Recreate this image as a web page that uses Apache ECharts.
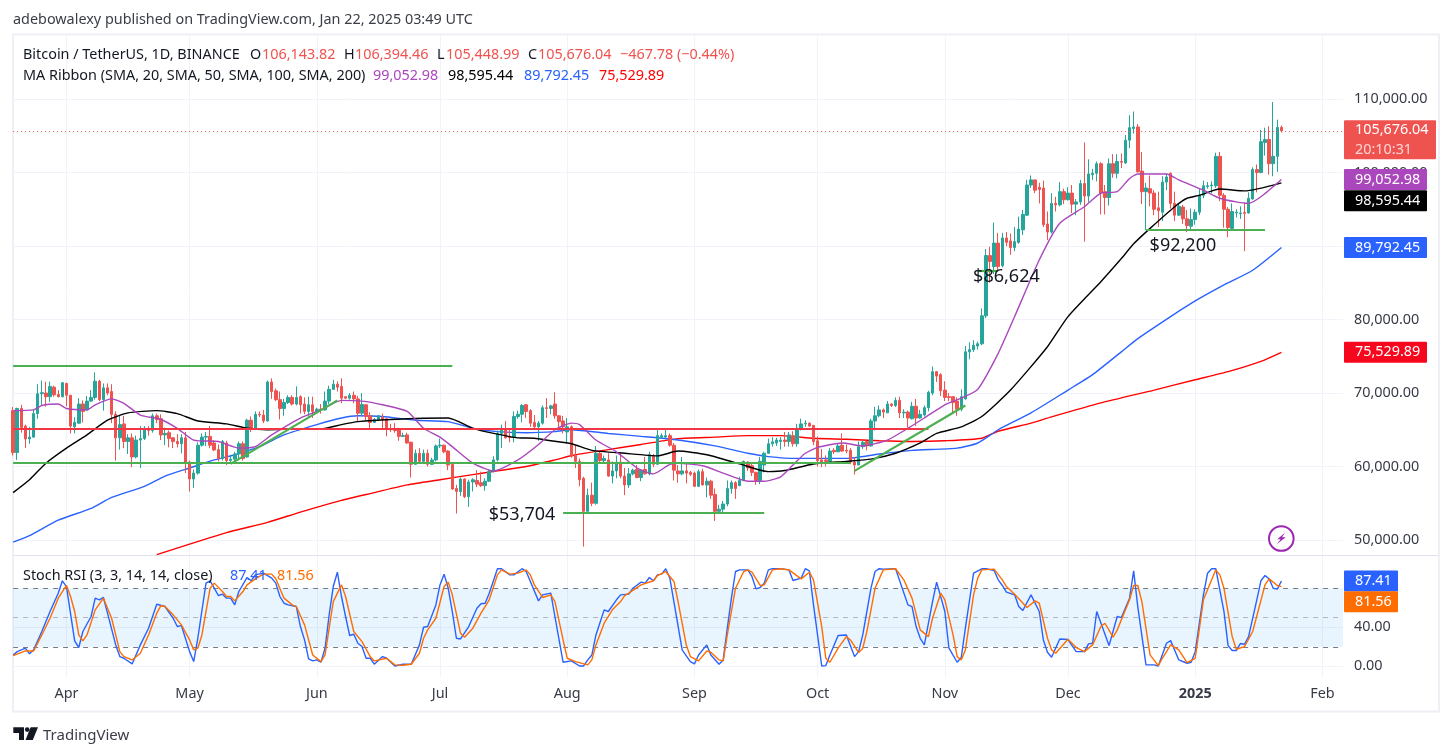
<!DOCTYPE html>
<html>
<head>
<meta charset="utf-8">
<title>BTC/USDT daily</title>
<style>html,body{margin:0;padding:0;background:#fff}#chart{width:1453px;height:756px}</style>
<script src="https://cdn.jsdelivr.net/npm/echarts@6/dist/echarts.min.js"></script>
</head>
<body>
<div id="chart"></div>
<script>
// Daily candles, 19 Mar 2024 to 22 Jan 2025, prices in thousands of USDT. One row per month.
const opens = [
67.6,61.9,67.9,65.5,63.75,64.0,67.2,69.9,70.0,69.5,70.8,69.8,69.5,
71.3,69.7,65.4,65.9,68.5,67.7,68.9,69.4,71.6,69.1,70.7,70.2,67.1,63.9,65.8,63.4,63.9,61.3,63.6,63.8,65.2,64.9,66.9,66.5,64.3,64.6,63.9,63.4,63.1,63.9,
60.6,58.3,59.1,62.9,64.0,64.1,63.2,62.3,61.1,63.2,60.8,61.0,61.7,63.1,61.3,66.3,65.2,67.1,67.0,66.2,71.5,70.3,69.1,67.9,68.7,69.4,68.5,69.5,68.5,67.5,68.4,
67.5,67.8,67.7,68.9,70.5,71.2,70.9,69.5,69.3,69.7,69.2,67.25,68.4,66.9,66.0,66.4,66.7,66.5,65.1,65.0,65.0,64.1,64.3,63.3,60.3,61.8,60.7,61.8,60.3,60.9,
62.8,62.9,62.1,60.3,57.0,56.6,58.3,55.9,57.9,58.1,57.8,57.4,58.0,59.3,60.9,64.5,65.1,63.99,63.95,66.8,67.1,68.4,67.6,66.0,65.4,65.9,68.0,67.9,68.5,66.9,66.2,
64.7,65.4,61.5,60.7,58.4,53.9,56.1,55.0,61.8,60.8,60.9,58.7,59.4,60.6,58.7,57.5,59.0,59.6,58.5,59.6,59.0,61.4,60.3,64.0,64.0,64.2,62.9,59.4,59.0,59.4,59.2,
59.1,57.3,59.3,57.5,58.0,56.2,53.9,54.2,54.9,57.0,57.8,57.4,58.1,60.6,60.1,59.2,58.1,60.2,61.8,63.1,63.2,63.4,63.6,63.4,64.2,63.1,65.2,65.8,65.9,65.6,
63.5,60.9,60.9,60.7,62.2,62.0,62.9,62.2,62.2,60.6,60.2,62.7,63.4,62.8,66.2,66.9,67.7,67.3,68.5,68.3,69.0,67.3,67.4,66.5,68.2,66.6,67.0,68.0,70.0,72.9,72.5,
70.4,69.5,69.5,68.9,67.8,69.2,75.6,75.9,76.4,76.7,80.5,88.7,87.2,90.4,87.3,91.1,90.7,89.8,90.5,92.2,94.2,98.3,99.0,98.0,97.9,93.0,91.9,95.8,95.6,97.4,
96.3,97.2,95.7,96.0,98.5,96.8,99.7,99.9,101.2,97.4,96.6,101.2,99.9,101.5,101.3,104.4,106.0,106.2,100.2,97.4,97.8,97.2,95.2,94.6,98.7,99.9,95.8,94.2,95.3,93.7,92.7,
93.6,94.6,96.9,98.1,98.2,98.2,102.2,96.9,95.0,92.4,94.5,94.4,94.55,94.5,96.4,100.4,100.0,104.1,104.5,101.2,102.2,106.14382
];
const highs = [
68.1,68.0,68.4,65.7,65.4,67.7,71.2,71.7,71.55,71.55,71.0,70.4,71.5,
71.4,69.7,66.7,69.3,69.0,69.6,70.4,72.8,71.8,71.3,71.3,71.2,67.5,66.9,66.9,64.4,64.5,64.2,65.5,65.5,65.5,67.2,67.2,67.1,65.3,64.9,64.0,64.4,64.4,64.7,
60.8,59.6,63.3,64.5,64.7,65.5,63.6,63.0,63.6,63.5,61.6,62.0,63.4,63.4,66.5,66.8,67.5,67.5,67.7,71.7,72.0,70.6,70.2,69.2,69.7,69.7,70.9,69.7,69.4,69.5,69.5,
68.0,68.5,70.2,71.0,71.8,71.6,72.0,69.6,70.0,70.2,69.6,70.0,68.5,67.4,66.6,67.0,67.2,66.6,65.8,65.9,65.2,64.6,64.6,63.4,62.3,62.5,62.3,62.3,61.2,63.0,
63.8,63.0,62.2,60.5,57.5,58.5,58.4,58.2,58.4,59.5,59.3,58.4,59.6,61.4,64.9,65.7,66.2,65.1,67.5,67.6,68.5,68.5,67.8,67.0,66.2,68.3,69.3,68.4,70.1,67.0,66.9,
66.6,65.6,62.9,61.1,58.6,57.0,57.8,62.8,62.0,61.5,61.8,60.7,61.5,61.8,59.8,59.8,59.7,60.2,59.6,61.3,62.0,61.7,65.0,64.5,65.0,64.5,63.2,60.2,61.3,60.4,59.4,
59.3,59.6,59.7,58.5,58.2,57.0,54.8,55.3,58.1,58.1,58.0,58.6,60.8,60.7,60.4,59.3,61.3,62.0,63.8,64.0,63.9,64.0,64.7,64.7,64.8,65.8,66.5,66.3,66.0,65.6,
64.1,62.4,61.5,62.5,62.5,63.2,64.5,63.0,62.5,61.3,63.4,63.5,63.4,66.5,68.1,68.3,67.9,68.9,68.6,69.4,69.5,67.8,67.6,68.8,69.2,67.7,68.3,70.3,73.6,73.0,72.7,
71.6,70.0,69.5,69.4,70.5,76.4,76.9,77.2,77.0,81.5,89.6,89.9,93.2,91.8,91.8,91.9,91.7,92.6,94.0,94.9,99.0,99.6,99.0,98.6,98.9,94.7,97.2,96.7,98.7,97.8,
98.0,98.3,96.4,99.0,104.1,101.8,100.5,101.5,101.4,98.3,101.9,102.5,102.5,102.6,105.1,107.8,108.3,106.6,102.8,98.6,99.6,97.6,97.4,99.5,99.8,100.0,97.4,95.7,95.6,94.9,95.1,
95.0,97.8,98.9,98.7,98.8,102.7,102.8,97.2,95.3,95.8,95.0,95.4,95.9,97.3,100.7,101.1,105.8,106.1,106.3,109.6,107.2,106.39446
];
const lows = [
61.5,60.9,64.6,62.5,63.1,63.9,66.5,68.4,68.15,68.8,69.5,69.4,69.4,
68.2,64.5,64.5,65.8,66.0,67.6,68.8,69.1,68.9,67.6,69.7,65.9,60.8,62.3,62.5,61.7,59.9,61.1,59.8,63.6,64.2,64.6,65.9,63.6,62.9,62.6,62.5,62.6,61.8,59.1,
56.6,57.1,58.9,62.7,62.8,62.5,62.1,60.7,60.8,60.2,60.5,60.7,60.9,60.8,61.2,64.7,65.0,66.7,65.9,66.1,69.2,68.9,66.4,66.9,68.5,68.3,68.3,67.2,67.1,66.7,66.6,
67.4,67.2,67.6,68.5,70.4,70.2,68.6,69.2,69.1,68.6,66.1,66.9,66.3,65.2,65.9,66.3,65.1,64.1,64.7,64.6,63.5,64.0,63.1,58.5,60.2,60.6,60.6,60.0,60.2,60.7,
62.5,61.8,59.5,56.8,53.6,56.0,55.7,54.5,56.6,57.2,57.2,56.7,57.9,59.2,60.7,62.5,63.8,63.3,63.3,66.5,66.0,66.6,65.4,65.1,63.5,65.7,66.6,67.1,66.5,65.3,64.5,
63.1,61.2,59.8,57.3,49.1,53.8,54.6,54.8,60.5,60.6,58.6,57.7,58.4,58.4,56.1,57.1,58.8,58.4,58.0,58.9,58.8,59.9,60.3,63.8,63.8,62.7,58.1,57.8,58.8,57.7,58.7,
57.2,57.2,57.4,55.8,55.6,52.6,53.7,53.8,54.6,56.3,55.6,57.3,58.0,59.4,58.7,57.5,57.6,59.2,61.7,62.7,62.8,62.3,62.7,62.7,62.7,62.7,64.9,65.4,65.4,62.9,
60.0,59.9,60.0,60.5,61.7,62.0,62.0,61.8,60.3,58.9,60.2,62.4,62.2,62.7,64.9,66.7,66.6,67.3,68.1,68.1,66.6,66.6,65.3,66.4,65.5,66.5,66.8,67.5,69.7,71.5,69.6,
68.9,68.9,67.3,66.9,67.5,69.1,74.6,75.6,75.9,76.5,80.2,85.0,86.2,86.5,87.1,90.0,88.8,89.3,90.3,91.5,94.1,97.9,97.2,95.8,92.6,90.8,91.7,94.7,95.4,95.7,
96.2,94.5,94.2,95.6,90.6,96.0,99.0,98.8,94.3,94.3,95.5,99.3,99.2,100.6,101.2,103.3,105.3,100.0,95.7,92.2,95.4,94.2,92.6,93.4,97.6,95.1,93.4,94.1,93.0,91.9,92.2,
92.9,94.2,96.5,97.8,97.2,97.9,96.1,92.5,91.2,92.1,93.9,93.7,89.3,94.4,96.3,97.3,99.9,102.3,99.7,99.5,100.1,105.44899
];
const closes = [
61.9,67.9,65.3,63.75,64.0,67.2,69.9,70.05,69.5,70.9,69.75,69.5,71.4,
69.7,65.5,66.0,68.5,67.5,68.9,69.4,71.6,69.1,70.7,70.0,67.1,63.9,65.7,63.4,63.9,61.3,63.6,63.8,65.2,64.9,66.9,66.4,64.3,64.5,63.8,63.4,63.1,63.9,60.5,
58.3,59.1,62.9,64.0,64.1,62.9,62.25,61.1,63.4,60.8,61.0,61.7,63.1,61.1,66.3,65.2,67.1,67.0,66.2,71.5,70.2,69.1,67.9,68.7,69.4,68.5,69.4,68.4,67.5,68.4,67.5,
67.8,67.7,68.9,70.5,71.2,70.8,69.3,69.3,69.7,69.2,67.25,68.45,66.8,66.0,66.4,66.9,66.4,65.1,65.0,64.9,64.1,64.2,63.2,60.3,61.8,60.7,61.8,60.3,60.9,62.8,
62.9,62.0,60.2,56.95,56.6,58.3,55.9,57.9,58.2,57.6,57.4,58.0,59.3,60.9,64.5,65.2,63.9,63.95,66.8,67.1,68.3,67.5,65.9,65.4,65.9,68.0,67.9,68.25,66.9,66.1,65.4,
65.4,61.4,60.7,58.2,53.9,56.1,55.0,61.8,60.8,61.1,58.7,59.4,60.6,58.7,57.5,59.0,59.5,58.5,59.5,59.0,61.6,60.3,64.2,64.2,64.2,62.9,59.5,59.0,59.4,59.1,58.95,
57.3,59.3,57.5,58.0,56.1,53.9,54.2,54.9,57.0,57.8,57.0,58.1,60.7,59.8,59.2,58.1,60.7,61.8,63.1,63.35,63.6,63.6,63.4,64.3,63.1,65.2,65.8,65.9,65.5,63.4,
60.8,60.6,60.7,62.1,62.0,62.8,62.1,62.1,60.6,60.2,62.7,63.3,62.8,66.2,66.9,67.7,67.4,68.5,68.3,69.0,67.3,67.4,66.6,68.2,66.6,67.1,68.0,70.1,72.9,72.3,70.3,
69.4,69.4,68.7,67.8,69.5,75.6,75.9,76.5,76.7,80.5,88.7,87.9,90.4,87.2,91.1,90.5,89.8,90.6,92.3,94.3,98.3,99.0,97.6,97.7,92.9,91.9,95.8,95.6,97.4,96.3,
97.2,95.7,96.0,98.5,96.8,99.8,99.9,101.2,97.2,96.6,101.2,99.9,101.5,101.4,104.4,106.1,106.2,100.1,97.4,97.9,97.2,95.0,94.8,98.7,99.4,95.8,94.2,95.4,93.7,92.8,93.6,
94.6,96.9,98.2,98.2,98.3,102.2,96.9,95.0,92.5,94.7,94.6,94.5,94.45,96.5,100.4,100.0,104.2,104.5,101.2,102.2,106.14,105.67604
];

// Moving averages, in thousands, read at the listed days (days counted from 1 Apr 2024).
const sma20Days = [-13,-8,-6,-2,0,5,7,11,14,18,23,27,31,37,42,46,50,57,62,67,72,77,83,87,91,94,99,104,110,115,119,123,125,129,134,139,143,147,149,155,160,166,170,174,177,180,183,189,194,200,205,209,214,218,222,227,231,237,242,248,252,256,259,261,268,271,277,281,285,288,291,296];
const sma20 = [67.6,67.7,68.3,68.5,67.9,67.7,68.4,69.2,68.6,67.0,66.4,65.2,63.6,63.4,62.5,62.7,64.3,66.6,67.7,69.0,68.9,68.4,67.5,65.2,64.0,62.7,60.45,59.4,60.9,63.0,65.0,65.9,65.7,63.6,62.0,59.8,59.0,60.3,60.45,60.1,59.1,58.0,58.0,58.6,60.2,61.8,62.6,63.2,62.8,63.6,65.2,66.6,68.4,69.3,70.5,75.4,80.4,88.1,93.1,95.35,97.2,97.4,99.2,99.8,99.8,99.0,97.6,96.5,96.0,95.8,96.7,99.05298];
const sma50Days = [-13,-9,-5,0,5,10,15,22,27,32,39,44,49,57,62,67,71,79,93,99,105,110,114,118,123,128,136,144,149,156,164,171,175,182,190,196,202,208,212,218,223,230,239,244,252,257,260,264,270,273,276,281,287,296];
const sma50 = [56.45,58.2,60.45,62.5,64.3,66.3,67.3,67.6,67.2,66.2,65.8,65.2,65.0,65.1,65.1,65.7,66.1,66.4,66.6,65.2,64.4,63.9,63.85,63.5,63.1,62.2,61.8,61.45,62.1,61.6,60.35,59.3,59.45,60.35,60.7,61.0,61.8,63.2,64.5,65.4,66.8,70.4,76.3,80.4,85.15,88.3,90.3,92.4,95.35,96.5,96.9,97.75,97.5,98.59544];
const sma100Days = [-13,-9,-2,6,11,19,24,30,36,41,47,53,61,67,71,77,85,93,99,105,112,119,123,132,140,149,158,166,171,178,190,198,206,217,222,227,235,244,250,257,261,269,274,282,289,296];
const sma100 = [49.7,50.6,52.7,54.3,55.8,57.3,58.7,59.8,60.9,61.6,62.7,64.3,65.7,66.6,66.9,66.8,66.3,66.1,65.2,64.75,64.6,64.75,65.0,64.5,64.1,63.6,62.8,61.8,61.35,61.1,61.1,61.7,62.2,62.5,63.2,65.0,67.3,70.4,72.5,75.6,77.4,80.4,82.2,84.7,86.7,89.79245];
const sma200Days = [22,39,49,57,67,75,83,91,99,105,112,119,124,132,140,149,158,166,174,182,190,198,206,214,223,227,235,240,252,265,275,283,291,296];
const sma200 = [48.0,51.0,52.4,53.8,55.4,56.45,57.5,58.2,58.9,59.4,60.0,60.9,61.6,62.3,63.0,63.8,64.0,64.2,64.2,63.85,63.7,63.5,63.4,63.5,63.85,64.8,65.9,66.75,68.65,70.4,71.8,72.9,74.3,75.52989];

// Stochastic RSI: %K and %D at the listed days (days counted from 1 Apr 2024).
const stochKDays = [-13,-12,-10,-9,-8,-6,-4,-2,-1,0,2,3,4,6,7,8,9,10,12,13,14,16,18,20,22,24,26,27,28,30,31,32,34,35,36,37,38,39,40,41,42,44,45,46,48,50,51,52,53,54,56,57,58,59,60,61,62,63,64,65,66,67,68,69,70,71,72,73,74,75,77,78,80,82,84,86,87,88,90,91,92,93,94,95,96,98,100,101,102,103,105,106,108,109,111,112,115,116,118,119,121,123,125,126,127,128,129,131,132,134,135,137,138,140,141,142,143,144,145,146,147,150,152,153,154,156,157,159,160,161,162,163,164,166,167,168,169,170,171,172,174,176,177,179,180,181,182,184,185,186,188,190,192,193,194,196,197,198,199,202,205,206,207,208,209,211,212,214,215,217,218,219,221,223,224,226,227,228,229,231,232,233,235,237,238,239,240,242,244,246,248,249,250,251,254,256,257,259,260,261,263,265,266,268,269,271,273,274,275,277,278,279,280,282,283,284,285,286,287,288,290,291,292,293,294,295,296];
const stochK = [11.6,15,18.5,12.7,16.8,35.6,56.1,74.9,87.6,81.7,26,19.2,35.6,51,69.8,68.1,70.5,54.4,21.9,9.9,8.2,2.4,21.9,39,63.6,61.2,49.2,40.7,41.7,15,4.8,28.7,85.2,87.6,80,72.5,73.9,69.8,69.8,62.9,76.6,91,87.6,93.7,95.4,90.3,85.2,71.5,64.6,62.9,61.2,40.7,27,7.5,5.5,6.5,4.1,18.5,52.7,81.7,96.4,71.5,51,31.5,32.8,23.6,20.2,8.2,8.2,2.1,9.9,8.2,0.3,2.1,2.1,21.9,40,40.7,62.9,83.4,94.4,80,56.1,28.7,28,40.7,59.5,64,64.6,74.9,100,100,93.7,93.7,100,97.1,67,73.2,74.9,51,4.1,5.5,0.3,0.3,6.5,11.6,32.1,57.8,56.1,68.1,73.2,73.9,80,86.2,85.2,91,87.6,93.7,94.4,100,90.3,16.8,4.8,2.4,11.6,21.9,11.6,2.1,6.5,39,69.8,97.1,98.8,98.8,92,79.3,80.7,85.2,98.8,100,100,98.8,87.9,90.3,100,97.8,62.9,0.3,0.7,11.6,31.5,32.1,9.9,15,32.1,80,97.1,100,99.5,99.9,62.9,61.2,40.7,28.7,21.9,66.3,86.2,56.1,18.5,4.1,9,39,95.4,99.9,100,98.2,88.6,82.8,75.9,73.2,61.2,57.1,73.2,56.1,27,14.4,9.2,28,27.4,15,15,22.9,23.6,56.1,21.2,51,49.9,69.8,97.8,61.2,1.4,1.4,0.3,23.6,26.3,6.5,3.1,4.1,15,73.2,95.4,100,100,56.1,21.2,16.1,16.1,23.3,22.6,30.4,68.1,87.6,93,89.6,80,79,87.41];
const stochDDays = [-13,-10,-8,-6,-4,-2,0,1,2,3,4,5,7,9,11,13,14,16,18,20,22,23,24,26,28,30,31,32,33,35,36,38,39,40,41,43,44,46,48,50,51,53,55,56,58,60,62,63,65,67,68,70,72,74,75,78,80,82,84,86,87,88,90,92,93,94,96,97,99,101,103,105,106,108,110,112,113,114,116,118,119,121,122,124,127,128,129,131,133,135,136,137,140,143,144,146,148,149,151,152,154,156,157,159,160,161,163,165,166,167,169,170,172,174,176,179,181,182,184,185,186,188,190,191,193,194,195,197,199,202,204,206,208,210,211,213,214,216,217,218,219,221,222,223,226,228,229,231,234,236,237,239,240,241,244,246,248,250,252,253,255,256,259,260,261,262,264,266,267,269,271,273,275,277,280,281,282,284,285,287,289,292,293,295,296];
const stochD = [10.9,15.7,15.7,32.1,49.2,69.8,82.8,71.5,56.1,32.1,26,32.1,57.8,69.8,49.2,15,9.9,6.5,13.3,32.1,54.4,62.2,61.2,52.7,42.4,27,16.8,18.5,32.1,80,85.2,76.6,71.5,71.5,67,76.6,83.4,89.6,94.4,94.4,89.6,69.8,62.9,61.2,42.4,11.6,4.8,11.6,66.3,83.4,71.5,35.6,25.3,9.9,5.5,8.2,1.4,1,2.1,13.3,28.7,37.3,49.2,81.7,86.2,73.2,33.9,29.8,39,54.4,68.1,93.7,98.8,94.4,95.4,98.8,93.7,83.4,70.5,73.2,66.3,27,8.2,4.8,1.4,6.5,21.9,44.1,57.8,66.3,72.5,74.9,83.4,87.6,93,97.1,86.9,66.3,21.9,9.9,5.5,15.7,14.4,6.5,5.5,32.1,80,97.1,98.8,96.4,82.8,83.4,98.8,100,98.8,89.6,96.4,88.6,40.7,8.2,4.1,18.5,30.4,27,14,18.5,35.6,80,98.8,99.9,88.6,69.8,37.3,30.4,49.2,74.9,68.1,32.1,9.9,6.5,16.8,73.2,90.3,98.8,99.5,88.6,81.7,73.9,60.2,67,64.6,28.7,16.8,13.3,27.7,19.2,15,21.9,40.7,44.1,29.8,37.3,68.1,82.8,82.8,66.3,11.6,0.7,8.2,21.9,16.8,3.8,8.2,68.1,98.8,93.7,80,30.4,17.4,20.2,35.6,83.4,89.6,82.8,81.56];

// Axis ticks and drawn levels.
const firstDate = Date.UTC(2024, 2, 19);
const dayCount = 325;
const monthTicks = [['2024-04-01','Apr'],['2024-05-01','May'],['2024-06-01','Jun'],['2024-07-01','Jul'],['2024-08-01','Aug'],['2024-09-01','Sep'],['2024-10-01','Oct'],['2024-11-01','Nov'],['2024-12-01','Dec'],['2025-01-01','2025'],['2025-02-01','Feb']];
const priceTicks = [50000,60000,70000,80000,90000,100000,110000];
const stochTicks = [0,40];
const lastClose = 105676.04;
const maLast = [99052.98,98595.44,89792.45,75529.89];
const stochLast = [87.41,81.56];
const flatGreenLevels = [['2024-03-19','2024-07-04',73700],['2024-03-19','2024-10-09',60500]];
const flatRedLevel = ['2024-03-19','2024-10-28',65100];
const supportLevels = [['2024-07-31','2024-09-18',53704],['2024-11-09','2024-11-14',86624],['2024-12-20','2025-01-18',92200]];
const supportTextAt = [['2024-07-21',53400],['2024-11-16',85800],['2024-12-29',90000]];
const trendLines = [['2024-05-11',60360,'2024-06-06',69000],['2024-10-10',59400,'2024-11-06',68300]];

const FONT = '"Noto Sans", sans-serif';
const FONT_SIZE = 14.4;
const UP = '#26a69a', DOWN = '#ef5350';
const PURPLE = '#ab47bc', BLUE = '#2962ff', RED = '#ff0000', ORANGE = '#ff6d00', GRID = '#f0f3fa';
const AXIS_TEXT = '#363a45';

const isoDay = ms => new Date(ms).toISOString().slice(0, 10);
const categories = [];
for (let i = 0; i < dayCount; i++) categories.push(isoDay(firstDate + i * 86400000));
const monthLabel = new Map(monthTicks);
const isMonth = (i, v) => monthLabel.has(v);
const dayIndex = d => d + 13;
const pairs = (days, vals, k) => days.map((d, i) => [dayIndex(d), vals[i] * k]);
const candles = closes.map((c, i) => [opens[i] * 1000, c * 1000, lows[i] * 1000, highs[i] * 1000]);
const money = v => v.toLocaleString('en-US', {minimumFractionDigits: 2, maximumFractionDigits: 2});

function tag(value, bg, width, dy) {
  return {
    yAxis: value,
    lineStyle: {color: 'rgba(0,0,0,0)', width: 0},
    label: {
      show: true, position: 'end', distance: 1, offset: [0, dy],
      formatter: value < 1000 ? value.toFixed(2) : money(value),
      color: '#fff', backgroundColor: bg, fontFamily: FONT, fontSize: FONT_SIZE,
      width: width, height: 21, lineHeight: 21, align: 'left', padding: [0, 0, 0, 11], borderRadius: 1
    }
  };
}

const segment = (x1, y1, x2, y2, color, w) => [
  {coord: [x1, y1], lineStyle: {color, width: w, type: 'solid', opacity: 1}},
  {coord: [x2, y2]}
];

const levelLines = [
  ...flatGreenLevels.map(l => segment(l[0], l[2], l[1], l[2], '#4caf50', 2.2)),
  segment(flatRedLevel[0], flatRedLevel[2], flatRedLevel[1], flatRedLevel[2], '#f23645', 2.2),
  ...supportLevels.map(l => segment(l[0], l[2], l[1], l[2], '#4caf50', 2.2)),
  ...trendLines.map(l => segment(l[0], l[1], l[2], l[3], '#4caf50', 2.2))
];

const textSeg = (x, y, text, fill, font) => ({
  type: 'text', x, y, z: 20, silent: true,
  style: {text, fill, font: font || FONT_SIZE + 'px "Noto Sans", sans-serif', textVerticalAlign: 'middle'}
});

const maLine = (name, days, vals, color, z, lastTag) => ({
  type: 'line', name, xAxisIndex: 0, yAxisIndex: 0, showSymbol: false, smooth: 0.2,
  data: pairs(days, vals, 1000), lineStyle: {color, width: 1.4}, z, silent: true,
  markLine: {silent: true, symbol: 'none', animation: false, z: 8, data: [lastTag]}
});

const option = {
  animation: false,
  backgroundColor: '#ffffff',
  grid: [
    {left: 13.1, right: 110, top: 35.1, height: 519.6},
    {left: 13.1, right: 110, top: 556, height: 121}
  ],
  xAxis: [0, 1].map(g => ({
    type: 'category', gridIndex: g, data: categories, boundaryGap: false,
    axisLine: {show: false}, axisTick: {show: false},
    splitLine: {show: true, interval: isMonth, lineStyle: {color: GRID, width: 1}},
    axisLabel: g === 0 ? {show: false} : {
      show: true, interval: isMonth, margin: 10, fontFamily: FONT, fontSize: FONT_SIZE, color: AXIS_TEXT,
      formatter: v => v === '2025-01-01' ? '{b|2025}' : monthLabel.get(v),
      rich: {b: {fontWeight: 'bold', fontFamily: FONT, fontSize: FONT_SIZE, color: AXIS_TEXT}}
    }
  })),
  yAxis: [
    {
      type: 'value', gridIndex: 0, position: 'right', min: 48000, max: 118700,
      axisLine: {show: false},
      axisTick: {show: false, customValues: priceTicks},
      splitLine: {show: true, lineStyle: {color: GRID, width: 1}},
      axisLabel: {customValues: priceTicks, formatter: v => money(v), margin: 11, align: 'left',
        fontFamily: FONT, fontSize: FONT_SIZE, color: AXIS_TEXT}
    },
    {
      type: 'value', gridIndex: 1, position: 'right', min: -11, max: 113,
      axisLine: {show: false},
      axisTick: {show: false, customValues: stochTicks},
      splitLine: {show: true, lineStyle: {color: GRID, width: 1}},
      axisLabel: {customValues: stochTicks, formatter: v => v.toFixed(2), margin: 11, align: 'left',
        fontFamily: FONT, fontSize: FONT_SIZE, color: AXIS_TEXT}
    }
  ],
  series: [
    maLine('SMA 200', sma200Days, sma200, RED, 3, tag(maLast[3], '#f7071d', 72, 0)),
    maLine('SMA 100', sma100Days, sma100, BLUE, 3, tag(maLast[2], BLUE, 72, 0)),
    {
      type: 'candlestick', name: 'BTC/USDT', xAxisIndex: 0, yAxisIndex: 0, data: candles,
      barWidth: 3, large: false, progressive: 0, z: 4,
      itemStyle: {color: UP, color0: DOWN, borderColor: UP, borderColor0: DOWN, borderColorDoji: DOWN, borderWidth: 1},
      markLine: {
        silent: true, symbol: 'none', animation: false, z: 6, label: {show: false},
        data: [
          ...levelLines,
          {
            yAxis: lastClose,
            lineStyle: {color: DOWN, width: 1, type: [1, 3], opacity: 1},
            label: {
              show: true, position: 'end', distance: 1, offset: [0, 9],
              formatter: '{a|' + money(lastClose) + '}\n{b|20:10:31}',
              backgroundColor: DOWN, width: 81, height: 39, padding: [0, 0, 0, 11], borderRadius: 1, align: 'left',
              rich: {
                a: {color: '#fff', fontFamily: FONT, fontSize: FONT_SIZE, lineHeight: 20},
                b: {color: '#ffd6d4', fontFamily: FONT, fontSize: FONT_SIZE, lineHeight: 19}
              }
            }
          }
        ]
      },
      markPoint: {
        silent: true, symbol: 'circle', symbolSize: 0, animation: false, z: 7,
        data: supportLevels.map((l, i) => ({
          coord: supportTextAt[i],
          label: {show: true, position: 'inside', formatter: '$' + l[2].toLocaleString('en-US'),
            fontFamily: FONT, fontSize: 18, color: '#131722'}
        }))
      }
    },
    maLine('SMA 50', sma50Days, sma50, '#000000', 5, tag(maLast[1], '#000000', 72, 18)),
    maLine('SMA 20', sma20Days, sma20, PURPLE, 5, tag(maLast[0], PURPLE, 72, 0)),
    {
      type: 'line', name: '%K', xAxisIndex: 1, yAxisIndex: 1, showSymbol: false, silent: true,
      data: pairs(stochKDays, stochK, 1), lineStyle: {color: BLUE, width: 1.4}, z: 3,
      markArea: {silent: true, animation: false, itemStyle: {color: 'rgba(33,150,243,0.1)'}, data: [[{yAxis: 80}, {yAxis: 20}]]},
      markLine: {
        silent: true, symbol: 'none', animation: false, z: 2,
        label: {show: false},
        data: [
          {yAxis: 80, lineStyle: {color: '#787b86', type: [5, 5], width: 1, opacity: 1}},
          {yAxis: 50, lineStyle: {color: '#b2b5be', type: [5, 5], width: 1, opacity: 1}},
          {yAxis: 20, lineStyle: {color: '#787b86', type: [5, 5], width: 1, opacity: 1}},
          tag(stochLast[0], BLUE, 43, 0)
        ]
      }
    },
    {
      type: 'line', name: '%D', xAxisIndex: 1, yAxisIndex: 1, showSymbol: false, silent: true,
      data: pairs(stochDDays, stochD, 1), lineStyle: {color: ORANGE, width: 1.4}, z: 4,
      markLine: {silent: true, symbol: 'none', animation: false, z: 8, data: [tag(stochLast[1], ORANGE, 43, 15)]}
    }
  ],
  graphic: {
    elements: [
      {type: 'rect', z: -10, silent: true, shape: {x: 13, y: 34.5, width: 1426, height: 677}, style: {fill: 'none', stroke: '#eef0f6', lineWidth: 2}},
      {type: 'line', z: 1, silent: true, shape: {x1: 13, y1: 555.5, x2: 1439, y2: 555.5}, style: {stroke: '#e0e3eb', lineWidth: 1}},

      textSeg(13, 20, 'adebowalexy published on TradingView.com, Jan 22, 2025 03:49 UTC', '#3a3d46'),

      textSeg(23, 55, 'Bitcoin / TetherUS, 1D, BINANCE', '#131722'),
      textSeg(250, 55, 'O', '#131722'), textSeg(262, 55, '106,143.82', DOWN),
      textSeg(344, 55, 'H', '#131722'), textSeg(355, 55, '106,394.46', DOWN),
      textSeg(437, 55, 'L', '#131722'), textSeg(446, 55, '105,448.99', DOWN),
      textSeg(528, 55, 'C', '#131722'), textSeg(538, 55, '105,676.04', DOWN),
      textSeg(620, 55, '\u2212467.78 (\u22120.44%)', DOWN),

      textSeg(23, 76, 'MA Ribbon (SMA, 20, SMA, 50, SMA, 100, SMA, 200)', '#131722'),
      textSeg(373, 76, '99,052.98', PURPLE), textSeg(448, 76, '98,595.44', '#000000'),
      textSeg(524, 76, '89,792.45', BLUE), textSeg(599, 76, '75,529.89', RED),

      textSeg(23, 576, 'Stoch RSI (3, 3, 14, 14, close)', '#131722'),
      textSeg(230, 576, '87.41', BLUE), textSeg(277, 576, '81.56', ORANGE),

      // Bolt badge
      {type: 'circle', z: 20, silent: true, shape: {cx: 1281.3, cy: 538.5, r: 12.3}, style: {fill: '#fff', stroke: '#9c27b0', lineWidth: 2}},
      {type: 'polygon', z: 21, silent: true, shape: {points: [[1285, 532.7], [1277.3, 539.3], [1280.7, 539.3], [1276.7, 544.3], [1285.7, 537.3], [1282, 537.3]]}, style: {fill: '#9c27b0'}},

      // Brand mark and wordmark
      {type: 'polygon', z: 20, silent: true, shape: {points: [[13.3, 727.3], [24, 727.3], [24, 740], [19, 740], [19, 733], [13.3, 733]]}, style: {fill: '#131722'}},
      {type: 'circle', z: 20, silent: true, shape: {cx: 27.2, cy: 729.6, r: 2.3}, style: {fill: '#131722'}},
      {type: 'polygon', z: 20, silent: true, shape: {points: [[38, 727.3], [32.8, 740], [25.5, 740], [30.6, 727.3]]}, style: {fill: '#131722'}},
      textSeg(43, 736, 'TradingView', '#3a3d46', '15px "Noto Sans", sans-serif')
    ]
  }
};

echarts.init(document.getElementById('chart'), null, {renderer: 'canvas'}).setOption(option);
</script>
</body>
</html>
